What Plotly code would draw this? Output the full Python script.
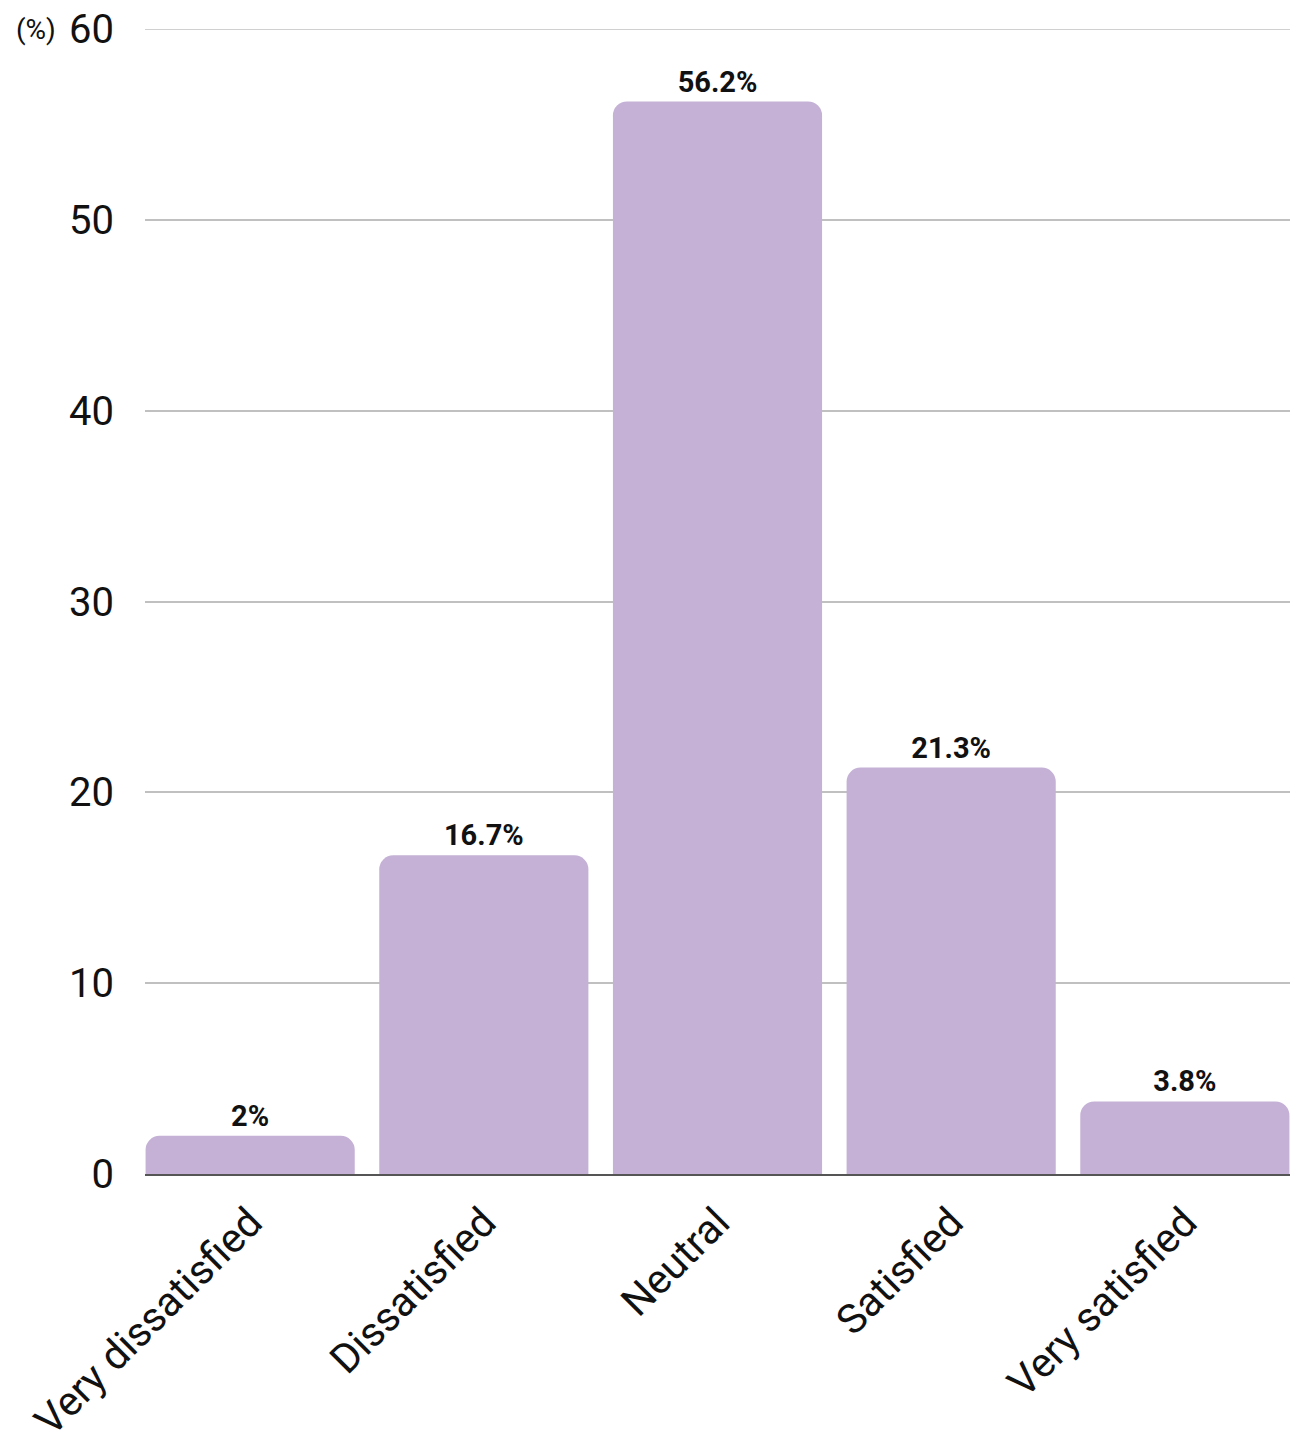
import plotly.graph_objects as go

categories = ["Very dissatisfied", "Dissatisfied", "Neutral", "Satisfied", "Very satisfied"]
values = [2, 16.7, 56.2, 21.3, 3.8]
value_labels = ["2%", "16.7%", "56.2%", "21.3%", "3.8%"]
y_ticks = [0, 10, 20, 30, 40, 50, 60]

FONT = "Roboto, Inter, sans-serif"
BAR_COLOR = "#C4B1D5"
GRID_COLOR = "#C0C0C0"

fig = go.Figure(
    go.Bar(
        x=categories,
        y=values,
        text=value_labels,
        textposition="outside",
        textfont=dict(family=FONT, size=29, color="#111111", weight="bold"),
        cliponaxis=False,
        marker=dict(color=BAR_COLOR, cornerradius=14, line=dict(width=0)),
        hoverinfo="skip",
    )
)

fig.update_layout(
    width=1290,
    height=1446,
    margin=dict(l=145, r=0, t=29, b=272),
    paper_bgcolor="white",
    plot_bgcolor="white",
    showlegend=False,
    bargap=0.105,
    font=dict(family=FONT, color="#111111"),
    xaxis=dict(
        range=[-0.45, 4.45],
        tickangle=-45,
        tickfont=dict(family=FONT, size=41, color="#111111"),
        showgrid=False,
        showline=True,
        linecolor="#555555",
        linewidth=1.5,
        ticks="",
        ticklabelstandoff=6,
        automargin=False,
    ),
    yaxis=dict(
        range=[0, 60],
        tickvals=y_ticks,
        tickfont=dict(family=FONT, size=40, color="#111111"),
        showgrid=True,
        gridcolor=GRID_COLOR,
        gridwidth=1.5,
        zeroline=False,
        showline=False,
        ticks="",
        ticklabelstandoff=30,
        automargin=False,
    ),
    annotations=[
        dict(
            text="(%)",
            xref="paper",
            yref="paper",
            x=-0.076,
            y=1.0,
            xanchor="right",
            yanchor="middle",
            showarrow=False,
            font=dict(family=FONT, size=28, color="#111111"),
        )
    ],
)

# top gridline at the upper end of the value axis
fig.add_shape(
    type="line", xref="paper", yref="y",
    x0=0, x1=1, y0=y_ticks[-1], y1=y_ticks[-1],
    line=dict(color=GRID_COLOR, width=1.5), layer="below",
)

fig.write_html("out.html")
